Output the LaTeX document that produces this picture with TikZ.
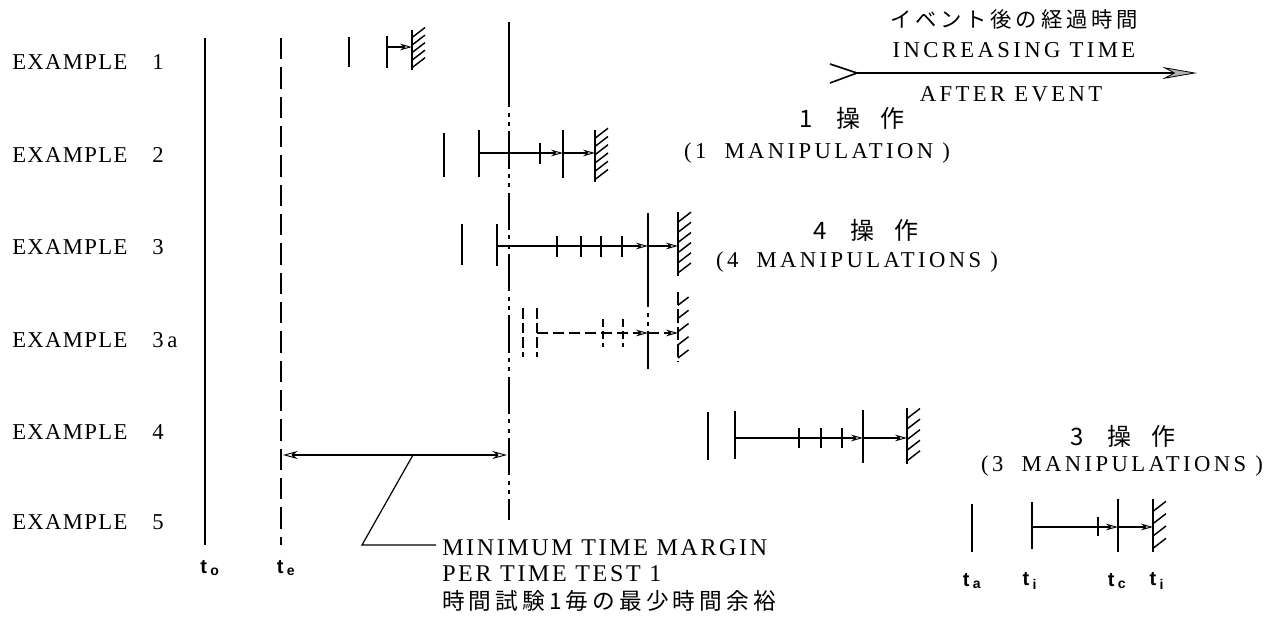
\documentclass[tikz,border=0pt]{standalone}
\usepackage{fontspec}
\setmainfont{Liberation Serif}
\newfontfamily\cjk{Noto Sans CJK JP}
\newfontfamily\cjkw[LetterSpace=18]{Noto Sans CJK JP}
\newfontfamily\sansf{Liberation Sans}
\newfontfamily\spacedserif[LetterSpace=6]{Liberation Serif}
\newfontfamily\wideserif[LetterSpace=15]{Liberation Serif}
\newfontfamily\midserif[LetterSpace=11]{Liberation Serif}
\usetikzlibrary{arrows.meta}
\newcommand\hwall[5][]{% [style] x, ytop, ybot, count
  \draw[bar,#1] (#2,#3) -- (#2,#4);
  \foreach \k in {1,...,#5}{\draw[hat,#1] (#2,{#3+\k*(#4-#3)/(#5+0.3)}) -- ++(13,-10);}
}
\begin{document}
\begin{tikzpicture}[x=0.75pt,y=-0.75pt,
  bar/.style={line width=1.7pt},
  hline/.style={line width=1.3pt},
  tickm/.style={line width=1.6pt},
  hat/.style={line width=1.1pt},
  oarr/.style={-{Stealth[open,length=9pt,width=5pt,line width=0.7pt]}},
  dd/.style={line width=0.9pt,dash pattern=on 28pt off 4pt on 3pt off 4pt on 3pt off 4pt},
  lbl/.style={font=\spacedserif\fontsize{17}{20}\selectfont,inner sep=0pt},
  wtxt/.style={font=\wideserif\fontsize{17}{20}\selectfont,inner sep=0pt},
  mtxt/.style={font=\midserif\fontsize{18}{21}\selectfont,inner sep=0pt},
  jp/.style={font=\cjk\fontsize{18}{21}\selectfont,inner sep=0pt},
  jpw/.style={font=\cjkw\fontsize{16}{19}\selectfont,inner sep=0pt},
  jpb/.style={font=\cjkw\fontsize{17}{20}\selectfont,inner sep=0pt},
  tl/.style={font=\sansf\bfseries\fontsize{15}{18}\selectfont,inner sep=0pt}
]
\useasboundingbox (0,0) rectangle (1283,624);

% row labels
\foreach \yy/\n/\name in {62/1/r1,155/2/r2,247/3/r3,340/{3\,a}/r3a,432/4/r4,522/5/r5}{
  \node[lbl,anchor=west] (\name) at (12,\yy) {EXAMPLE};
  \node[lbl,anchor=west] (\name n) at (152,\yy) {\n};
}

% reference lines
\coordinate (t0top) at (205,38); \coordinate (t0bot) at (205,545);
\draw[line width=1.3pt] (t0top) -- (t0bot);
\coordinate (tetop) at (281,38); \coordinate (tebot) at (281,545);
\draw[line width=1.1pt,dash pattern=on 16pt off 6pt] (tetop) -- (tebot);
\node[tl] (lto) at (210,568) {t\,\textsubscript{o}};
\node[tl] (lte) at (286,568) {t\,\textsubscript{e}};

\coordinate (mtop) at (509,22); \coordinate (mmid) at (509,70); \coordinate (mbot) at (509,520);
\draw[line width=0.9pt] (mtop) -- (mmid);
\draw[dd] (mmid) -- (mbot);

% increasing time arrow
\coordinate (tA) at (857,73); \coordinate (tB) at (1197,73);
\draw[line width=1.2pt,-{Stealth[length=26pt,width=9pt,fill=gray!60,color=black,line width=0.6pt]}] (tA) -- (tB);
\draw[line width=1.2pt] (830,64) -- (tA) -- (830,83);
\node[jpw] (jt) at (1014,19) {イベント後の経過時間};
\node[wtxt] (it) at (1014,50) {INCREASING TIME};
\node[wtxt] (ae) at (1011,94) {AFTER EVENT};

% EXAMPLE 1
\draw[bar] (349,37) -- (349,67);
\draw[bar] (387,36) -- (387,68);
\coordinate (a12) at (387,47); \coordinate (aw1) at (412,47);
\draw[hline,oarr] (a12) -- (aw1);
\hwall{412}{30}{70}{5}

% EXAMPLE 2
\draw[bar] (444,133) -- (444,177);
\draw[bar] (479,130) -- (479,177);
\draw[tickm] (540,143) -- (540,164);
\draw[bar] (563,130) -- (563,178);
\coordinate (a22) at (479,153); \coordinate (a23) at (563,153); \coordinate (aw2) at (595,153);
\draw[hline,oarr] (a22) -- (a23);
\draw[hline,oarr] (a23) -- (aw2);
\hwall{595}{130}{182}{6}
\node[jp] (m1a) at (852,118) {1\hspace{18pt}操\hspace{15pt}作};
\node[wtxt] (m1b) at (817,153) {(1\ \ MANIPULATION\ )};

% EXAMPLE 3
\draw[bar] (462,224) -- (462,265);
\draw[bar] (497,224) -- (497,266);
\foreach \xx in {557,581,601,622}{\draw[tickm] (\xx,236) -- (\xx,257);}
\coordinate (b3top) at (648,213); \coordinate (b3mid) at (648,270); \coordinate (b3bot) at (648,372);
\draw[bar] (b3top) -- (b3mid);
\draw[dd,line width=1.2pt] (b3mid) -- (b3bot);
\coordinate (a32) at (497,246); \coordinate (a33) at (648,246); \coordinate (aw3) at (678,246);
\draw[hline,oarr] (a32) -- (a33);
\draw[hline,oarr] (a33) -- (aw3);
\hwall{678}{212}{276}{6}
\node[jp] (m4a) at (866,230) {4\hspace{18pt}操\hspace{15pt}作};
\node[wtxt] (m4b) at (857,262) {(4\ \ MANIPULATIONS\ )};

% EXAMPLE 3a (dashed)
\draw[bar,dash pattern=on 8pt off 3pt] (523,308) -- (523,357);
\draw[bar,dash pattern=on 8pt off 3pt] (537,308) -- (537,357);
\foreach \xx in {603,623}{\draw[tickm,dash pattern=on 6pt off 3pt] (\xx,319) -- (\xx,347);}
\coordinate (a3a2) at (537,333); \coordinate (a3a3) at (648,333); \coordinate (aw3a) at (678,333);
\draw[hline,dash pattern=on 8pt off 4pt,oarr] (a3a2) -- (a3a3);
\draw[hline,dash pattern=on 8pt off 4pt,oarr] (a3a3) -- (aw3a);
\hwall[dash pattern=on 10pt off 3pt]{678}{292}{362}{5}

% EXAMPLE 4
\draw[bar] (708,412) -- (708,460);
\draw[bar] (735,411) -- (735,459);
\foreach \xx in {799,821,842}{\draw[tickm] (\xx,428) -- (\xx,448);}
\draw[bar] (863,410) -- (863,463);
\coordinate (a42) at (735,438); \coordinate (a43) at (863,438); \coordinate (aw4) at (907,438);
\draw[hline,oarr] (a42) -- (a43);
\draw[hline,oarr] (a43) -- (aw4);
\hwall{907}{408}{464}{5}
\node[jp] (m3a) at (1123,436) {3\hspace{18pt}操\hspace{15pt}作};
\node[wtxt] (m3b) at (1122,466) {(3\ \ MANIPULATIONS\ )};

% margin arrow
\coordinate (mgL) at (283,455); \coordinate (mgR) at (507,455);
\draw[hline,{Stealth[open,length=11pt,width=6pt,line width=0.7pt]}-{Stealth[open,length=11pt,width=6pt,line width=0.7pt]}] (mgL) -- (mgR);
\coordinate (ld1) at (413,455); \coordinate (ld2) at (362,545); \coordinate (ld3) at (436,545);
\draw[line width=0.9pt] (ld1) -- (ld2) -- (ld3);
\node[mtxt,anchor=west] (mt1) at (442,548) {MINIMUM TIME MARGIN};
\node[mtxt,anchor=west] (mt2) at (442,574) {PER TIME TEST 1};
\node[jpb,anchor=west] (mt3) at (442,601) {時間試験1毎の最少時間余裕};

% EXAMPLE 5
\draw[bar] (972,504) -- (972,552);
\draw[bar] (1032,502) -- (1032,549);
\draw[tickm] (1098,517) -- (1098,536);
\draw[bar] (1118,499) -- (1118,552);
\coordinate (a52) at (1032,527); \coordinate (a53) at (1118,527); \coordinate (aw5) at (1153,527);
\draw[hline,oarr] (a52) -- (a53);
\draw[hline,oarr] (a53) -- (aw5);
\hwall{1153}{499}{552}{4}
\node[tl] (lta) at (972,581) {t\,\textsubscript{a}};
\node[tl] (lti) at (1030,581) {t\,\textsubscript{i}};
\node[tl] (ltc) at (1117,581) {t\,\textsubscript{c}};
\node[tl] (lti2) at (1157,581) {t\,\textsubscript{i}};
\end{tikzpicture}
\end{document}
